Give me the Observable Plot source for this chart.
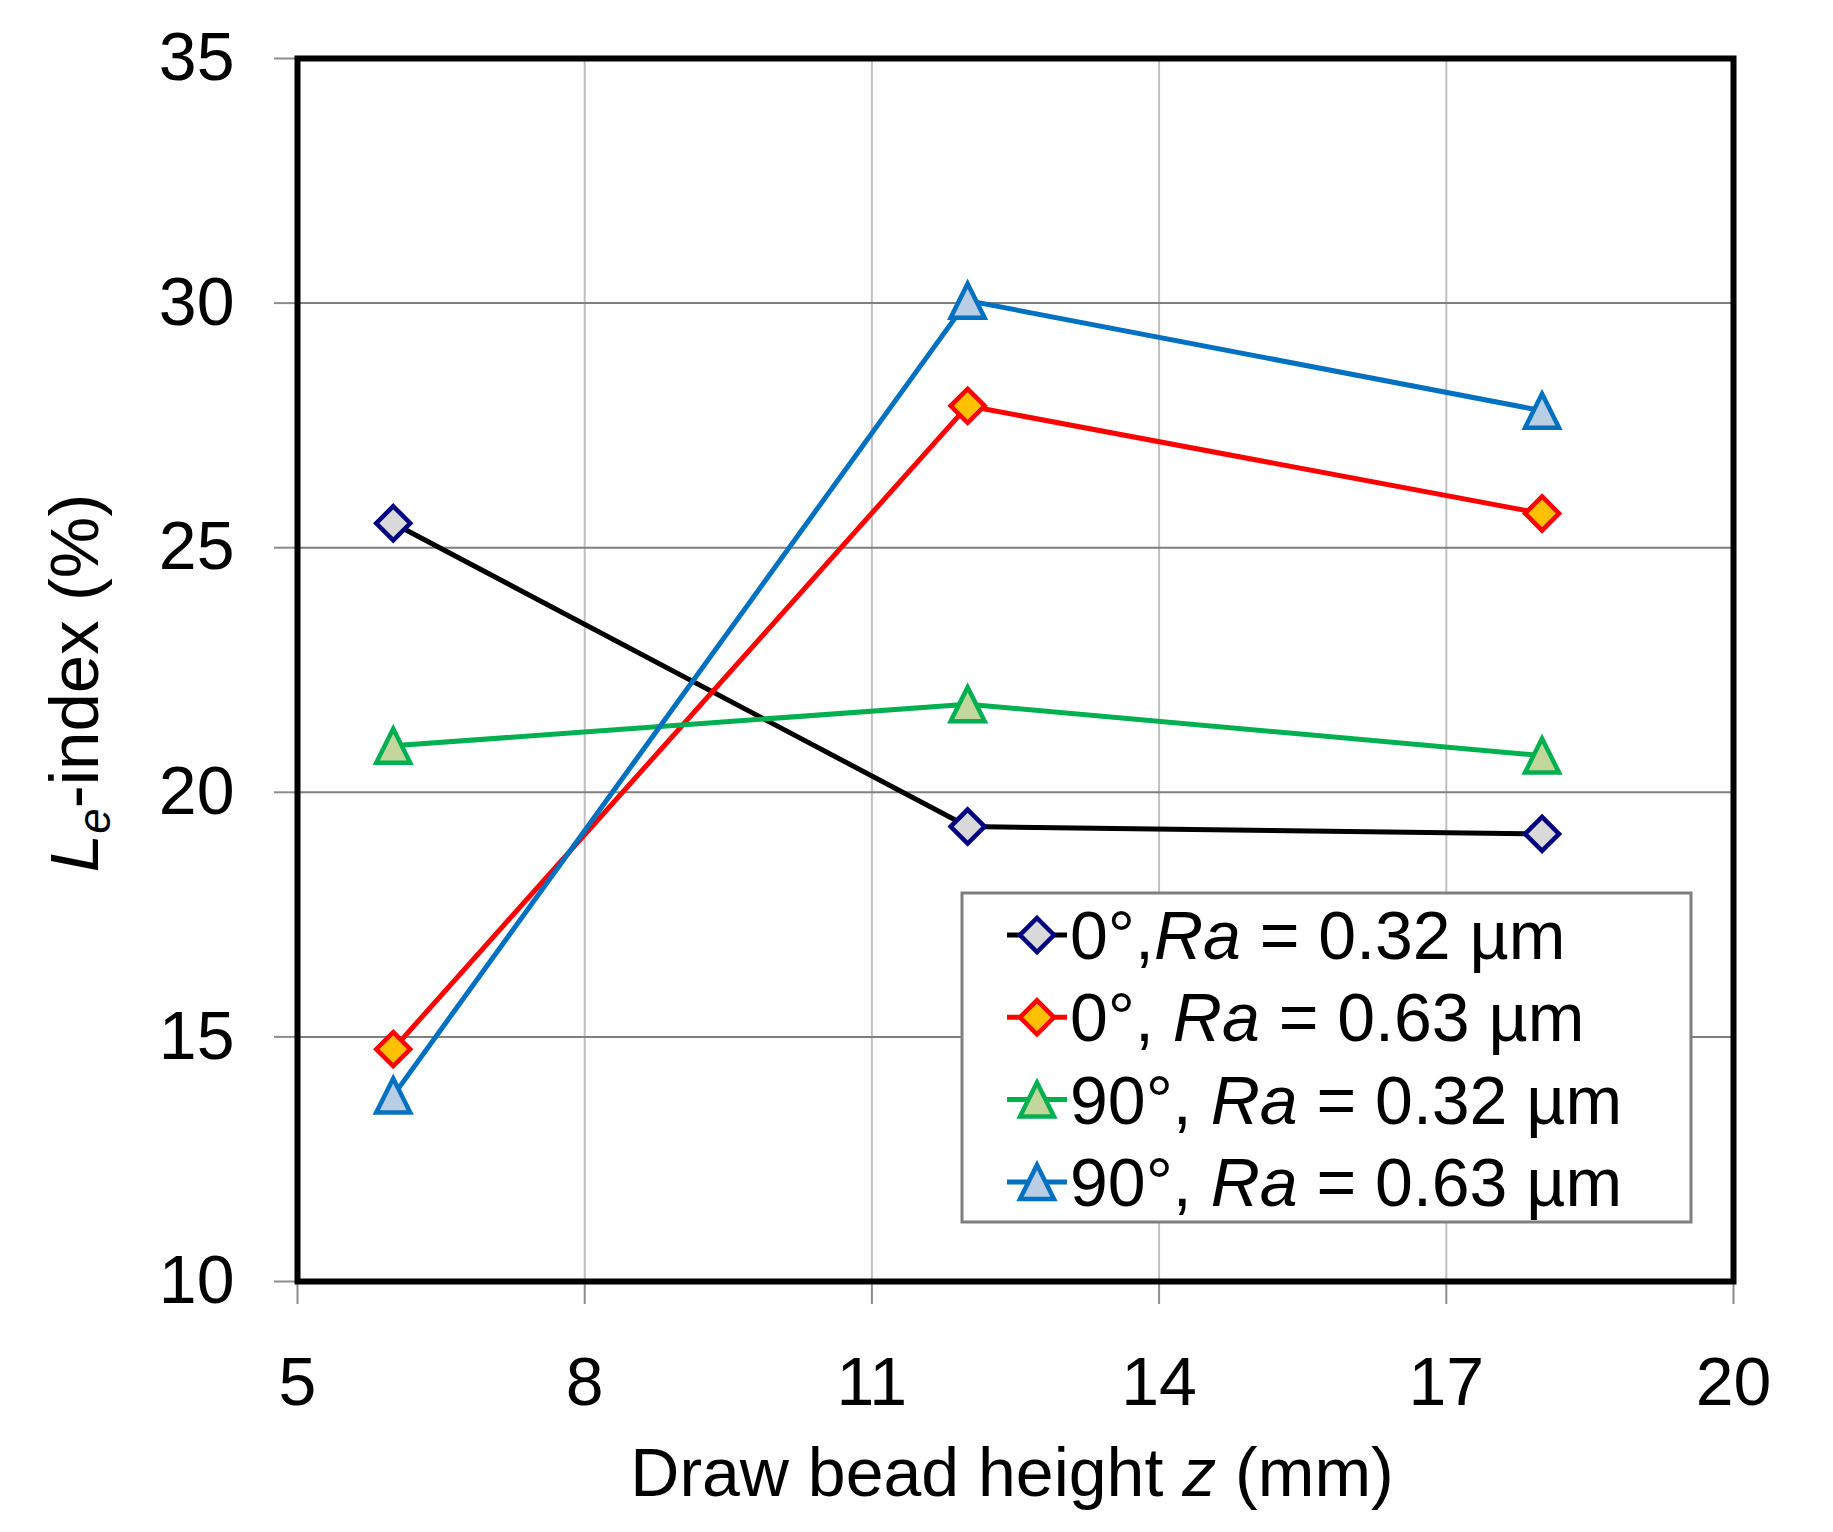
<!DOCTYPE html>
<html>
<head>
<meta charset="utf-8">
<script src="https://cdn.jsdelivr.net/npm/d3@7"></script>
<script src="https://cdn.jsdelivr.net/npm/@observablehq/plot@0.6"></script>
<style>
  body { margin: 0; background: #fff; }
  #chart { width: 1833px; height: 1532px; }
</style>
</head>
<body>
<div id="chart"></div>
<script>
// ---- data ----
const xValues = [6, 12, 18];                 // draw bead height z (mm)
const xTicks = [5, 8, 11, 14, 17, 20];
const yTicks = [10, 15, 20, 25, 30, 35];
const seriesAngle = ["0°,", "0°, ", "90°, ", "90°, "];
const seriesRa = [" = 0.32 µm", " = 0.63 µm", " = 0.32 µm", " = 0.63 µm"];
const le_0deg_032 = [25.5, 19.3, 19.15];
const le_0deg_063 = [14.75, 27.9, 25.7];
const le_90deg_032 = [20.95, 21.8, 20.75];
const le_90deg_063 = [13.8, 30.05, 27.8];

// ---- symbols ----
const diamond = { draw(ctx, size) { const h = Math.sqrt(size / Math.PI);
  ctx.moveTo(0, -h); ctx.lineTo(h, 0); ctx.lineTo(0, h); ctx.lineTo(-h, 0); ctx.closePath(); } };
const triangle = { draw(ctx, size) { const h = Math.sqrt(size / Math.PI);
  ctx.moveTo(0, -h); ctx.lineTo(h, h); ctx.lineTo(-h, h); ctx.closePath(); } };

const series = [
  { values: le_0deg_032, line: "#000000", mstroke: "#000080", fill: "#d9d9d9", symbol: diamond, r: 17 },
  { values: le_0deg_063, line: "#ff0000", mstroke: "#ff0000", fill: "#ffc000", symbol: diamond, r: 17 },
  { values: le_90deg_032, line: "#00b050", mstroke: "#00b050", fill: "#c3d69b", symbol: triangle, r: 17 },
  { values: le_90deg_063, line: "#0070c0", mstroke: "#0070c0", fill: "#b9cde5", symbol: triangle, r: 17 }
];
series.forEach((s, k) => { s.rows = xValues.map((x, i) => ({ x, y: s.values[i], k })); });

const font = "'Liberation Sans', Arial, sans-serif";

const plot = Plot.plot({
  width: 1833, height: 1532,
  marginLeft: 297, marginRight: 100, marginTop: 58, marginBottom: 251,
  x: { domain: [5, 20] },
  y: { domain: [10, 35] },
  style: { fontFamily: font, background: "#fff", color: "#000", overflow: "visible" },
  marks: [
    Plot.gridX(xTicks, { stroke: "#bfbfbf", strokeOpacity: 1, strokeWidth: 2 }),
    Plot.gridY(yTicks, { stroke: "#7f7f7f", strokeOpacity: 1, strokeWidth: 2 }),
    Plot.axisX(xTicks, { tickSize: 23, tickPadding: 52, stroke: "#8c8c8c", strokeWidth: 2, fill: "#000",
                         fontSize: 68, label: null, tickFormat: d => String(d) }),
    Plot.axisY(yTicks, { tickSize: 23, tickPadding: 40, stroke: "#8c8c8c", strokeWidth: 2, fill: "#000",
                         fontSize: 68, label: null, tickFormat: d => String(d) }),
    ...series.flatMap(s => [
      Plot.line(s.rows, { x: "x", y: "y", stroke: s.line, strokeWidth: 5 }),
      Plot.dot(s.rows, { x: "x", y: "y", symbol: s.symbol, r: s.r, fill: s.fill, stroke: s.mstroke, strokeWidth: 4.5 })
    ]),
    Plot.frame({ stroke: "#000", strokeWidth: 6 })
  ]
});
document.getElementById("chart").appendChild(plot);

const svg = d3.select(plot);

// y-axis title
const yt = svg.append("text")
  .attr("transform", "translate(98,683) rotate(-90)")
  .attr("text-anchor", "middle")
  .attr("font-family", font).attr("font-size", 69).attr("fill", "#000");
yt.append("tspan").attr("font-style", "italic").text("L");
yt.append("tspan").attr("font-style", "italic").attr("font-size", 46).attr("dy", 12).text("e");
yt.append("tspan").attr("dy", -12).text("-index (%)");

// x-axis title
const xt = svg.append("text")
  .attr("x", 1012).attr("y", 1496)
  .attr("text-anchor", "middle")
  .attr("font-family", font).attr("font-size", 68).attr("fill", "#000");
xt.append("tspan").text("Draw bead height ");
xt.append("tspan").attr("font-style", "italic").text("z");
xt.append("tspan").text(" (mm)");

// legend
const lg = svg.append("g").attr("text-anchor", "start");
lg.append("rect").attr("x", 962).attr("y", 893).attr("width", 729).attr("height", 329)
  .attr("fill", "#fff").attr("stroke", "#7f7f7f").attr("stroke-width", 3);
series.forEach((s, i) => {
  const cy = 935 + i * 82.3;
  lg.append("line").attr("x1", 1007).attr("x2", 1067).attr("y1", cy).attr("y2", cy)
    .attr("stroke", s.line).attr("stroke-width", 5);
  const p = d3.path();
  s.symbol.draw(p, Math.PI * s.r * s.r);
  lg.append("path").attr("d", p.toString()).attr("transform", `translate(1037,${cy})`)
    .attr("fill", s.fill).attr("stroke", s.mstroke).attr("stroke-width", 4.5);
  const t = lg.append("text").attr("x", 1070).attr("y", cy + 24)
    .attr("text-anchor", "start")
    .attr("font-family", font).attr("font-size", 68).attr("fill", "#000")
    .attr("xml:space", "preserve");
  t.append("tspan").text(seriesAngle[i]);
  t.append("tspan").attr("font-style", "italic").text("Ra");
  t.append("tspan").text(seriesRa[i]);
});
</script>
</body>
</html>
